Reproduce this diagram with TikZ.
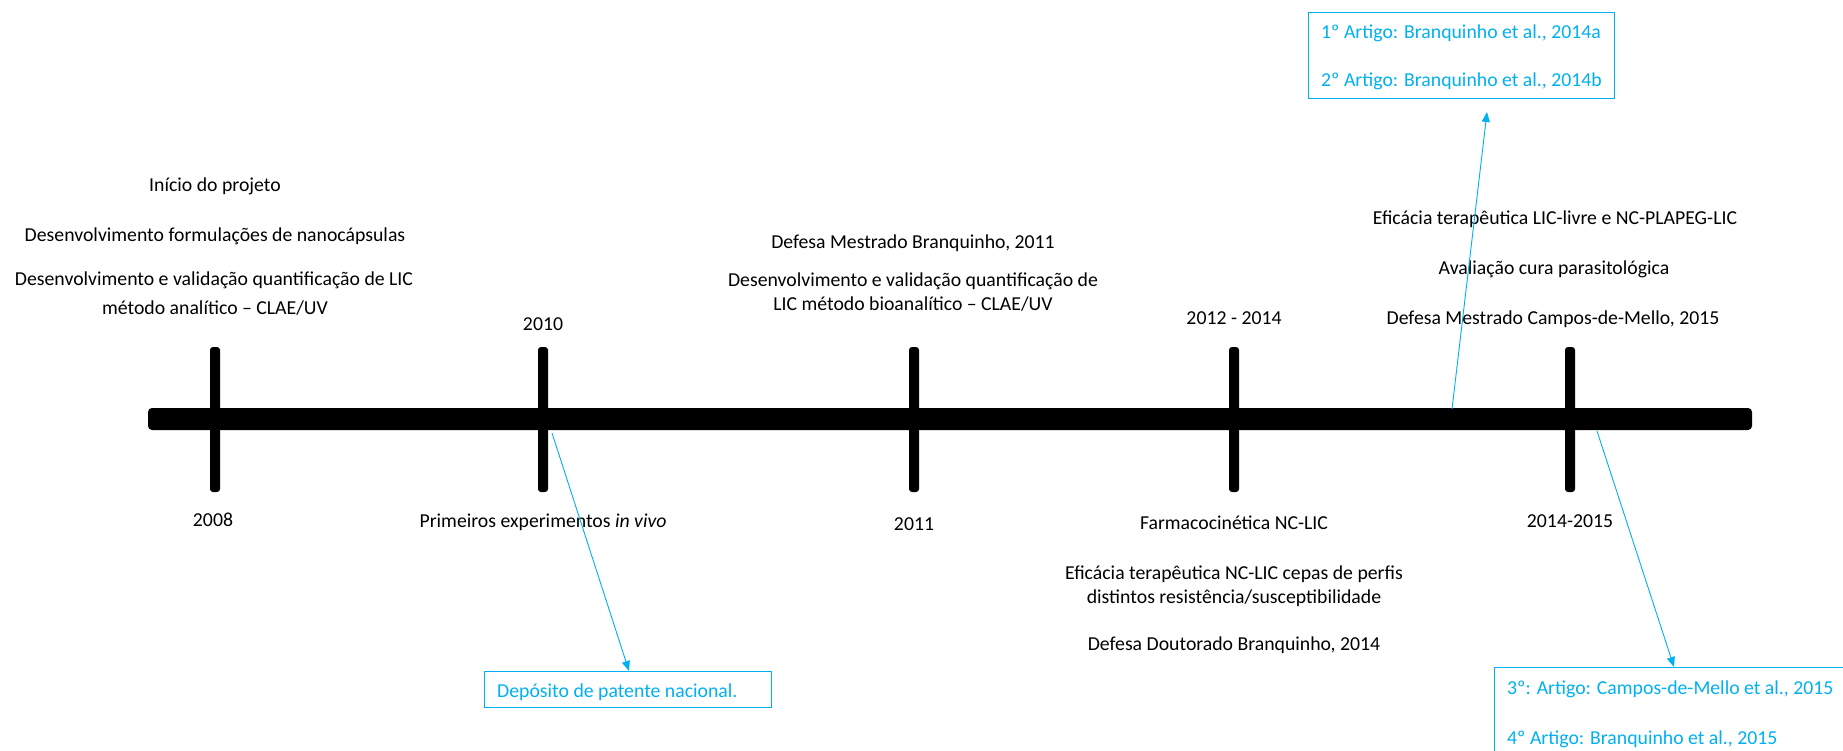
\documentclass[tikz,border=0pt]{standalone}
\usepackage{fontspec}
\setmainfont{Carlito}
\usetikzlibrary{arrows.meta}
\definecolor{lblue}{HTML}{00B0F0}
\begin{document}
\begin{tikzpicture}[x=1pt,y=-1pt,
  txt/.style={anchor=base,font=\fontsize{19.75}{23}\selectfont,inner sep=0pt},
  bluetxt/.style={anchor=base west,font=\fontsize{19.75}{23}\selectfont,text=lblue,inner sep=0pt},
  bluebox/.style={draw=lblue,line width=1.3pt,inner sep=0pt,anchor=north west},
  tickmark/.style={fill=black,rounded corners=3pt},
  conn/.style={draw=lblue,line width=0.9pt,-{Triangle[length=10pt,width=8pt]}}]
\useasboundingbox (0,0) rectangle (1843,751);
% main bar
\fill[rounded corners=4pt] (148,408) rectangle (1752,430);
% ticks
\fill[tickmark] (210,347) rectangle (220,492);
\fill[tickmark] (538,347) rectangle (548,492);
\fill[tickmark] (909,347) rectangle (919,492);
\fill[tickmark] (1229,347) rectangle (1239,492);
\fill[tickmark] (1565,347) rectangle (1575,492);
% 2008
\node[txt] (a1) at (215,192) {Início do projeto};
\node[txt] (a2) at (215,242) {Desenvolvimento formulações de nanocápsulas};
\node[txt] (a3) at (214,285) {Desenvolvimento e validação quantificação de LIC};
\node[txt] (a4) at (215,314) {método analítico – CLAE/UV};
\node[txt] (y1) at (213,526) {2008};
% 2010
\node[txt] (y2) at (543,330) {2010};
\node[txt] (b1) at (543,527) {Primeiros experimentos \textit{in vivo}};
% 2011
\node[txt] (c1) at (913,249) {Defesa Mestrado Branquinho, 2011};
\node[txt] (c2) at (913,287) {Desenvolvimento e validação quantificação de};
\node[txt] (c3) at (913,310) {LIC método bioanalítico – CLAE/UV};
\node[txt] (y3) at (914,530) {2011};
% 2012-2014
\node[txt] (y4) at (1234,324) {2012 - 2014};
\node[txt] (d1) at (1234,529) {Farmacocinética NC-LIC};
\node[txt] (d2) at (1234,579) {Eficácia terapêutica NC-LIC cepas de perfis};
\node[txt] (d3) at (1234,603) {distintos resistência/susceptibilidade};
\node[txt] (d4) at (1234,650) {Defesa Doutorado Branquinho, 2014};
% 2014-2015
\node[txt] (e1) at (1555,225) {Eficácia terapêutica LIC-livre e NC-PLAPEG-LIC};
\node[txt] (e2) at (1554,274) {Avaliação cura parasitológica};
\node[txt] (e3) at (1553,324) {Defesa Mestrado Campos-de-Mello, 2015};
\node[txt] (y5) at (1570,527) {2014-2015};
% blue boxes
\node[bluebox,minimum width=306pt,minimum height=86pt] (box1) at (1308,12) {};
\node[bluetxt] (p1) at (1321,39) {1º Artigo: Branquinho et al., 2014a};
\node[bluetxt] (p2) at (1321,87) {2º Artigo: Branquinho et al., 2014b};
\node[bluebox,minimum width=287pt,minimum height=36pt] (box2) at (484,671) {};
\node[bluetxt] (q1) at (497,697) {Depósito de patente nacional.};
\node[bluebox,minimum width=420pt,minimum height=140pt] (box3) at (1494,667) {};
\node[bluetxt] (r1) at (1507,694) {3º: Artigo: Campos-de-Mello et al., 2015};
\node[bluetxt] (r2) at (1507,744) {4º Artigo: Branquinho et al., 2015};
% connectors
\coordinate (s1) at (1452,409);
\coordinate (t1) at (1487,112);
\coordinate (s2) at (552,433);
\coordinate (t2) at (629,671);
\coordinate (s3) at (1597,431);
\coordinate (t3) at (1674,667);
\draw[conn] (s1) -- (t1);
\draw[conn] (s2) -- (t2);
\draw[conn] (s3) -- (t3);
\end{tikzpicture}
\end{document}
